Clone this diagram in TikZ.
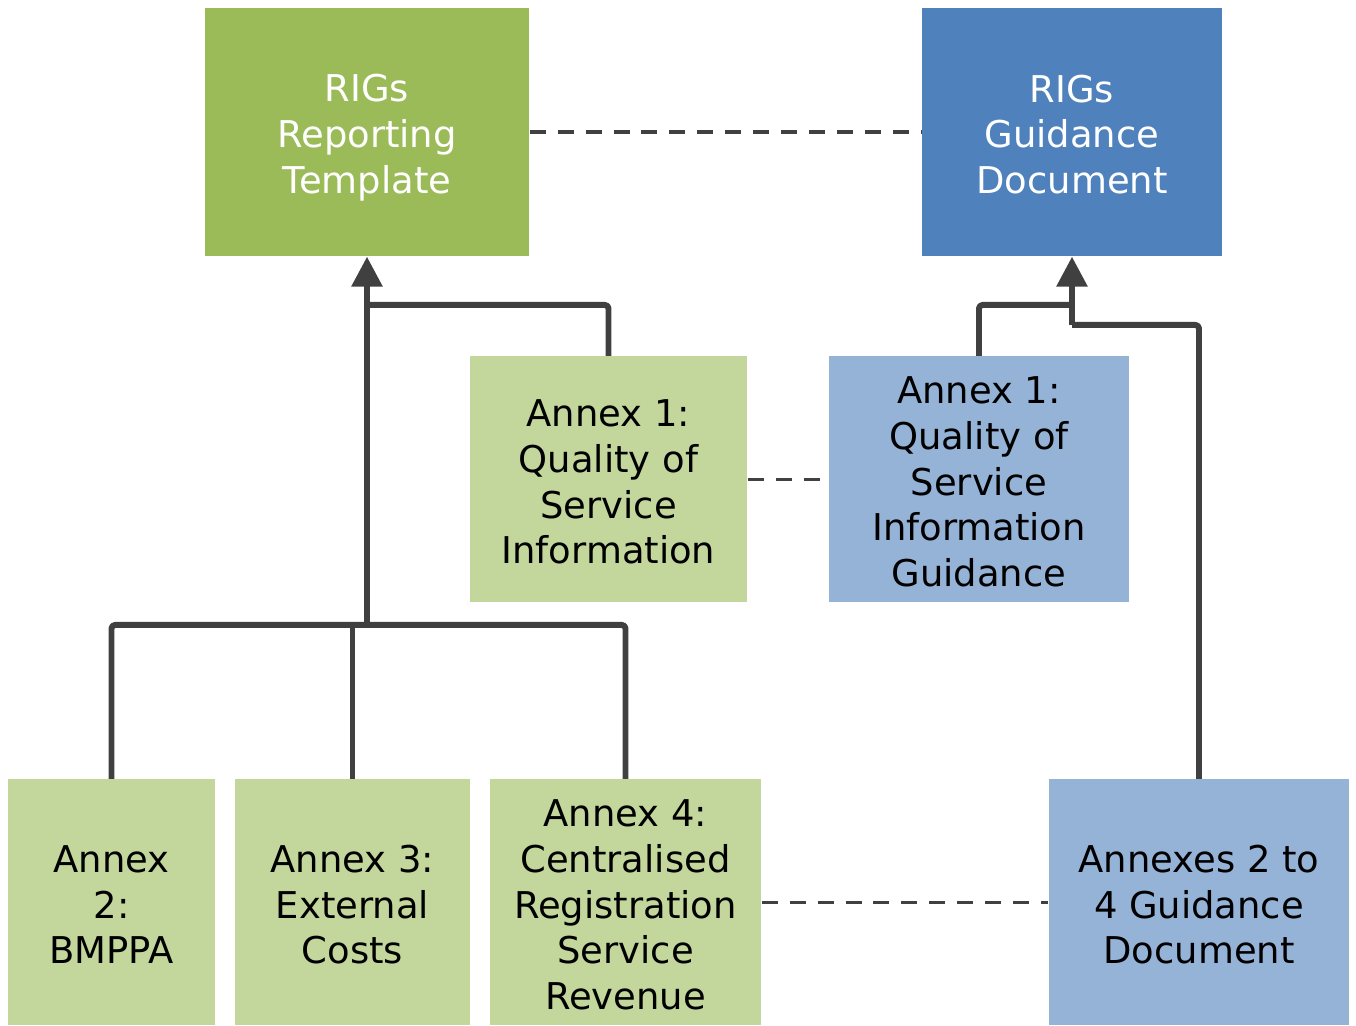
\documentclass[tikz,border=0pt]{standalone}
\usepackage{fontspec}
\setmainfont{DejaVu Sans}
\usetikzlibrary{arrows.meta}
\newcommand\topstrut{\rule{0pt}{11pt}}
\newcommand\botstrut{\rule[-2pt]{0pt}{2pt}}

\begin{document}
\begin{tikzpicture}[
    box/.style={rectangle, align=center, inner sep=0pt, font=\fontsize{10.5}{13}\selectfont},
    topgreen/.style={box, fill=tgreen, text=white, minimum height=2.48cm},
    topblue/.style={box, fill=tblue, text=white, minimum height=2.48cm},
    subgreen/.style={box, fill=sgreen, text=black, minimum height=2.46cm},
    subblue/.style={box, fill=sblue, text=black, minimum height=2.46cm},
    link/.style={draw=linegray, line width=1.7pt, line join=round, rounded corners=1pt},
    feed/.style={link, -{Triangle[width=8.5pt,length=8.5pt]}},
    pair/.style={draw=linegray, line width=1.1pt, dash pattern=on 4.55pt off 3.4pt},
]
    \definecolor{tgreen}{HTML}{9BBB59}
    \definecolor{tblue}{HTML}{4F81BD}
    \definecolor{sgreen}{HTML}{C3D69B}
    \definecolor{sblue}{HTML}{95B3D7}
    \definecolor{linegray}{HTML}{404040}
    \useasboundingbox (0,0) rectangle (13.56,10.26);

    \node[topgreen, minimum width=3.24cm] (tmpl) at (3.67,8.94) {\topstrut RIGs\\Reporting\\Template\botstrut};
    \node[topblue, minimum width=3.00cm] (guide) at (10.72,8.94) {\topstrut RIGs\\Guidance\\Document\botstrut};

    \node[subgreen, minimum width=2.77cm] (qos) at (6.085,5.465) {\topstrut Annex 1:\\Quality of\\Service\\Information\botstrut};
    \node[subblue, minimum width=3.00cm] (qosg) at (9.79,5.465) {\topstrut Annex 1:\\Quality of\\Service\\Information\\Guidance\botstrut};

    \node[subgreen, minimum width=2.07cm] (bmppa) at (1.115,1.235) {\topstrut Annex\\2:\\BMPPA\botstrut};
    \node[subgreen, minimum width=2.35cm] (ext) at (3.525,1.235) {\topstrut Annex 3:\\External\\Costs\botstrut};
    \node[subgreen, minimum width=2.71cm] (crs) at (6.255,1.235) {\topstrut Annex 4:\\Centralised\\Registration\\Service\\Revenue\botstrut};
    \node[subblue, minimum width=3.00cm] (anx) at (11.99,1.235) {\topstrut Annexes 2 to\\4 Guidance\\Document\botstrut};

    \coordinate (barL) at (3.67,4.01);
    \coordinate (barQ) at (3.67,7.21);
    \coordinate (barG) at (10.72,7.21);
    \coordinate (barA) at (10.72,7.01);

    \draw[link] (bmppa.north) |- (barL) -| (crs.north);
    \draw[link] (ext.north) -- (ext.north |- barL);
    \draw[feed] (barL) -- (tmpl.south);
    \draw[link] (qos.north) |- (barQ);

    \draw[link] (qosg.north) |- (barG);
    \draw[link] (anx.north) |- (barA);
    \draw[feed] (barA) -- (guide.south);

    \draw[pair] (tmpl.east) -- (guide.west);
    \draw[pair] (qos.east) -- (qosg.west);
    \draw[pair] (crs.east) -- (anx.west);
\end{tikzpicture}
\end{document}
